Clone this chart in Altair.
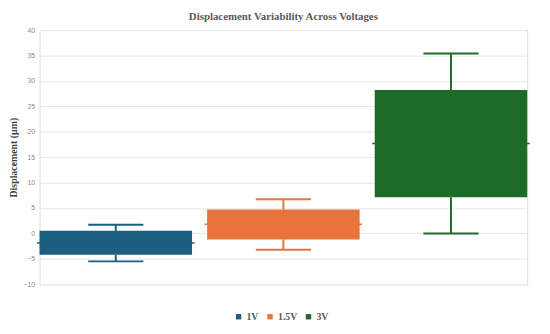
import altair as alt
import pandas as pd

series = ["1V", "1.5V", "3V"]
mins = [-5.5, -3.2, 0.0]
q1s = [-4.2, -1.2, 7.1]
medians = [-1.9, 1.8, 17.7]
q3s = [0.5, 4.7, 28.2]
maxs = [1.7, 6.7, 35.4]
colors = ["#1b5e7f", "#e8743b", "#1e6b28"]
y_ticks = [-10, -5, 0, 5, 10, 15, 20, 25, 30, 35, 40]

df = pd.DataFrame({"series": series, "min": mins, "q1": q1s, "median": medians,
                   "q3": q3s, "max": maxs})

xenc = alt.X("series:N", sort=series, axis=None,
             scale=alt.Scale(paddingInner=0.09, paddingOuter=0.0))
color = alt.Color("series:N", sort=series,
                  scale=alt.Scale(domain=series, range=colors),
                  legend=alt.Legend(title=None, orient="none", legendX=197, legendY=286,
                                    direction="horizontal",
                                    symbolType="square", symbolSize=30,
                                    labelFont="Liberation Serif", labelFontWeight="bold",
                                    labelFontSize=10, labelColor="#595959",
                                    columnPadding=6, labelOffset=3, symbolStrokeWidth=0))
yscale = alt.Scale(domain=[-10, 40], nice=False)
yaxis = alt.Axis(values=y_ticks, title="Displacement (µm)", titleFont="Liberation Serif",
                 titleFontWeight="bold", titleFontSize=10, titleColor="#404040",
                 titlePadding=4, labelFontSize=7, labelColor="#8c8c8c",
                 labelFont="Liberation Sans", domain=False, ticks=False,
                 labelOverlap=False,
                 gridColor="#e6e6e6", gridWidth=1, labelPadding=5)


def Y(field):
    return alt.Y(field, type="quantitative", scale=yscale, axis=yaxis)


base = alt.Chart(df)

boxes = base.mark_bar(opacity=1).encode(x=xenc, y=Y("q1"), y2="q3:Q", color=color)
whisk_lo = base.mark_rule(strokeWidth=2).encode(x=xenc, y=Y("min"), y2="q1:Q", color=color)
whisk_hi = base.mark_rule(strokeWidth=2).encode(x=xenc, y=Y("q3"), y2="max:Q", color=color)
cap_lo = base.mark_tick(size=56, thickness=2, opacity=1).encode(x=xenc, y=Y("min"), color=color)
cap_hi = base.mark_tick(size=56, thickness=2, opacity=1).encode(x=xenc, y=Y("max"), color=color)
med = base.mark_tick(size=160, thickness=1.5, opacity=1).encode(x=xenc, y=Y("median"), color=color)

chart = alt.layer(boxes, whisk_lo, whisk_hi, cap_lo, cap_hi, med).properties(
    width=495, height=258,
    title=alt.TitleParams("Displacement Variability Across Voltages", font="Liberation Serif",
                          fontSize=11, fontWeight="bold", color="#595959", offset=4),
    autosize=alt.AutoSizeParams(type="none"),
    padding={"left": 32, "top": 20, "right": 15, "bottom": 40},
).configure_view(stroke=None).configure(background="white")

chart.save("out.html", embed_options={"renderer": "svg", "actions": False})
